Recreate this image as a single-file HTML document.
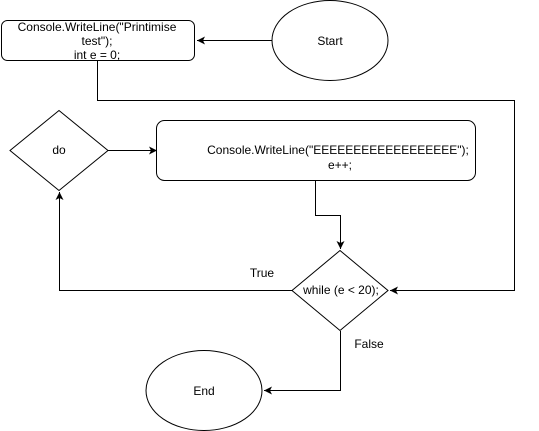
<!DOCTYPE html>
<html><head><style>html,body{margin:0;padding:0;background:#fff;}svg{display:block}</style></head>
<body>
<svg width="539" height="431" viewBox="0 0 539 431" xmlns="http://www.w3.org/2000/svg" font-family="Liberation Sans, Arial, sans-serif" font-size="12">
<defs>
<marker id="a" markerWidth="10" markerHeight="10" refX="8" refY="5" orient="auto" markerUnits="userSpaceOnUse">
<path d="M0,1 L8,5 L0,9 L2,5 Z" fill="#000"/>
</marker>
</defs>
<g fill="none" stroke="#000" stroke-width="1">
<rect x="1.5" y="20.5" width="193" height="40" rx="6"/>
<ellipse cx="330" cy="40.5" rx="58" ry="40"/>
<polygon points="59,110.5 108,150.5 59,190.5 10,150.5"/>
<rect x="156.5" y="120.5" width="319" height="60" rx="8"/>
<polygon points="340,250.5 388,290.5 340,330.5 292,290.5"/>
<ellipse cx="204" cy="390.5" rx="58" ry="40"/>
<path d="M272,40.5 H197" marker-end="url(#a)"/>
<path d="M97.5,61 V100.5 H514.5 V290.5 H390" marker-end="url(#a)"/>
<path d="M108,150.5 H157" marker-end="url(#a)"/>
<path d="M315.5,181 V215.5 H340.5 V249" marker-end="url(#a)"/>
<path d="M292,290.5 H59.5 V192" marker-end="url(#a)"/>
<path d="M340.5,331 V390.5 H264" marker-end="url(#a)"/>
</g>
<g fill="#000" text-anchor="middle">
<text x="97" y="31">Console.WriteLine("Printimise</text>
<text x="97" y="45">test");</text>
<text x="97" y="59">int e = 0;</text>
<text x="330" y="45">Start</text>
<text x="59" y="154">do</text>
<text x="338" y="154">Console.WriteLine("EEEEEEEEEEEEEEEEEE");</text>
<text x="340" y="169">e++;</text>
<text x="341" y="294">while (e &lt; 20);</text>
<text x="262" y="277">True</text>
<text x="369" y="348">False</text>
<text x="204" y="395">End</text>
</g>
</svg>
</body></html>
